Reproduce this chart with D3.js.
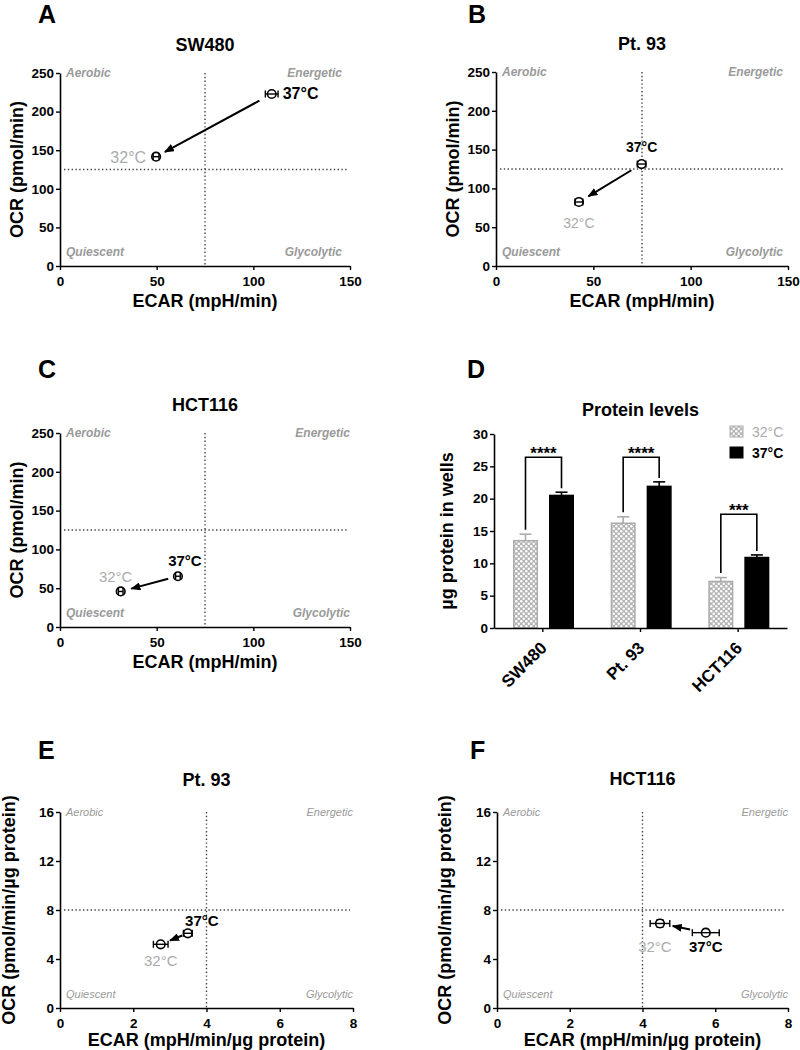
<!DOCTYPE html>
<html><head><meta charset="utf-8">
<script src="https://cdn.jsdelivr.net/npm/d3@7"></script>
<style>
body{margin:0;background:#fff;}
svg{font-family:"Liberation Sans",Arial,Helvetica,sans-serif;display:block;}
</style></head><body>
<svg id="c" width="800" height="1050"></svg>
<script>
// ---------------- data ----------------
const conditions = ["37°C", "32°C"];
const ocrTicks = [0, 50, 100, 150, 200, 250];
const ecarTicks = [0, 50, 100, 150];
const normOcrTicks = [0, 4, 8, 12, 16];
const normEcarTicks = [0, 2, 4, 6, 8];
const rawThreshold = [75, 125];
const normThreshold = [4, 8];
const quadrantNames = ["Aerobic", "Energetic", "Quiescent", "Glycolytic"];

// order: [37°C, 32°C]
const swEcar = [109.5, 49.7], swEcarErr = [3.3, 1.5], swOcr = [222.8, 141.6], swOcrErr = [3, 3];
const ptEcar = [74.8, 42.6], ptEcarErr = [2.2, 2.0], ptOcr = [131.4, 82.5], ptOcrErr = [3, 2.5];
const hctEcar = [61.0, 31.4], hctEcarErr = [1.2, 1.2], hctOcr = [65.4, 45.8], hctOcrErr = [2.5, 2.5];
const ptNormEcar = [3.49, 2.75], ptNormEcarErr = [0.12, 0.2], ptNormOcr = [6.1, 5.2], ptNormOcrErr = [0.2, 0.15];
const hctNormEcar = [5.74, 4.48], hctNormEcarErr = [0.37, 0.27], hctNormOcr = [6.15, 6.9], hctNormOcrErr = [0.2, 0.3];

const proteinCats = ["SW480", "Pt. 93", "HCT116"];
const protein32 = [13.5, 16.2, 7.2], protein32Err = [1.0, 1.0, 0.6];
const protein37 = [20.5, 21.9, 10.9], protein37Err = [0.5, 0.7, 0.4];
const proteinTicks = [0, 5, 10, 15, 20, 25, 30];
const sigLevel = [26.4, 26.4, 17.6];
const sigLabels = ["****", "****", "***"];

// ---------------- drawing ----------------
const svg = d3.select("#c");
const defs = svg.append("defs");
defs.append("marker").attr("id", "arr").attr("viewBox", "0 0 10 8")
  .attr("refX", 9).attr("refY", 4).attr("markerWidth", 5).attr("markerHeight", 4)
  .attr("orient", "auto").attr("markerUnits", "strokeWidth")
  .append("path").attr("d", "M0,0 L10,4 L0,8 Z").attr("fill", "#000");
const pat = defs.append("pattern").attr("id", "chk").attr("patternUnits", "userSpaceOnUse")
  .attr("width", 5).attr("height", 5);
pat.append("rect").attr("width", 5).attr("height", 5).attr("fill", "#b4b4b4");
pat.append("circle").attr("cx", 1.25).attr("cy", 1.25).attr("r", 1.25).attr("fill", "#fff");
pat.append("circle").attr("cx", 3.75).attr("cy", 3.75).attr("r", 1.25).attr("fill", "#fff");

const GRAY = "#ababab", QGRAY = "#9a9a9a";

function styleAxis(sel) {
  sel.select(".domain").attr("stroke", "#000").attr("stroke-width", 1.6);
  sel.selectAll(".tick line").attr("stroke", "#000").attr("stroke-width", 1.4);
  sel.selectAll(".tick text").attr("font-size", 13.5).attr("font-weight", "bold").attr("fill", "#000")
    .attr("font-family", "Liberation Sans, Arial, sans-serif");
}

function scatter(o) {
  const g = svg.append("g");
  const x = d3.scaleLinear().domain(o.xDom).range([o.x0, o.x1]);
  const y = d3.scaleLinear().domain(o.yDom).range([o.yB, o.yT]);
  g.append("text").attr("x", o.lx).attr("y", o.ly).attr("font-size", 25).attr("font-weight", "bold").text(o.letter);
  g.append("text").attr("x", (o.x0 + o.x1) / 2).attr("y", o.ty).attr("text-anchor", "middle")
    .attr("font-size", 18).attr("font-weight", "bold").text(o.title);
  // quadrant dividers
  const dot = { "stroke": "#444", "stroke-width": 1.4, "stroke-dasharray": "1.4,2.4" };
  const vl = g.append("line").attr("x1", x(o.thr[0])).attr("x2", x(o.thr[0])).attr("y1", o.yT).attr("y2", o.yB);
  const hl = g.append("line").attr("x1", o.x0 + 4).attr("x2", o.x1 - 3).attr("y1", y(o.thr[1])).attr("y2", y(o.thr[1]));
  for (const k in dot) { vl.attr(k, dot[k]); hl.attr(k, dot[k]); }
  // quadrant labels
  const qpos = [[o.x0 + 6, o.yT, "start"], [o.x1 - o.qRight, o.yT, "end"],
                [o.x0 + 6, o.yB - 14, "start"], [o.x1 - o.qRight, o.yB - 14, "end"]];
  quadrantNames.forEach((n, i) => {
    g.append("text").attr("x", qpos[i][0]).attr("y", qpos[i][1]).attr("dy", "0.35em")
      .attr("text-anchor", qpos[i][2]).attr("font-size", o.qSize).attr("font-style", "italic")
      .attr("font-weight", o.qBold ? "bold" : "normal").attr("fill", QGRAY).text(n);
  });
  // axes
  const xa = g.append("g").attr("transform", `translate(0,${o.yB})`)
    .call(d3.axisBottom(x).tickValues(o.xTicks).tickSize(4).tickPadding(6).tickSizeOuter(0));
  const ya = g.append("g").attr("transform", `translate(${o.x0},0)`)
    .call(d3.axisLeft(y).tickValues(o.yTicks).tickSize(4).tickPadding(2).tickSizeOuter(0));
  styleAxis(xa); styleAxis(ya);
  g.append("text").attr("x", (o.x0 + o.x1) / 2).attr("y", o.xtY).attr("text-anchor", "middle")
    .attr("font-size", 18).attr("font-weight", "bold").text(o.xTitle);
  g.append("text").attr("transform", `translate(${o.ytX},${(o.yT + o.yB) / 2}) rotate(-90)`)
    .attr("text-anchor", "middle").attr("font-size", 18).attr("font-weight", "bold").text(o.yTitle);
  // arrow 37 -> 32
  const p = conditions.map((c, i) => [x(o.ecar[i]), y(o.ocr[i])]);
  const dx = p[1][0] - p[0][0], dy = p[1][1] - p[0][1], L = Math.hypot(dx, dy);
  const ux = dx / L, uy = dy / L;
  g.append("line").attr("x1", p[0][0] + ux * o.arrow[0]).attr("y1", p[0][1] + uy * o.arrow[0])
    .attr("x2", p[1][0] - ux * o.arrow[1]).attr("y2", p[1][1] - uy * o.arrow[1])
    .attr("stroke", "#000").attr("stroke-width", 2).attr("marker-end", "url(#arr)");
  // points with error bars
  conditions.forEach((c, i) => {
    const cx = p[i][0], cy = p[i][1];
    const xl = x(o.ecar[i] - o.ecarErr[i]), xr = x(o.ecar[i] + o.ecarErr[i]);
    const yt = y(o.ocr[i] + o.ocrErr[i]), yb = y(o.ocr[i] - o.ocrErr[i]);
    const e = g.append("g").attr("stroke", "#000").attr("stroke-width", 1.4).attr("fill", "none");
    e.append("line").attr("x1", cx).attr("x2", cx).attr("y1", yt).attr("y2", yb);
    e.append("line").attr("x1", cx - 3.5).attr("x2", cx + 3.5).attr("y1", yt).attr("y2", yt);
    e.append("line").attr("x1", cx - 3.5).attr("x2", cx + 3.5).attr("y1", yb).attr("y2", yb);
    e.append("circle").attr("cx", cx).attr("cy", cy).attr("r", 4.3).attr("stroke-width", 1.6).attr("fill", "#fff");
    e.append("line").attr("x1", xl).attr("x2", xr).attr("y1", cy).attr("y2", cy);
    e.append("line").attr("x1", xl).attr("x2", xl).attr("y1", cy - 3.5).attr("y2", cy + 3.5);
    e.append("line").attr("x1", xr).attr("x2", xr).attr("y1", cy - 3.5).attr("y2", cy + 3.5);
    const lb = o.labels[i];
    g.append("text").attr("x", cx + lb.dx).attr("y", cy + lb.dy).attr("text-anchor", lb.anchor)
      .attr("font-size", lb.size).attr("font-weight", i === 0 ? "bold" : "normal")
      .attr("fill", i === 0 ? "#000" : GRAY).text(c);
  });
}

scatter({ letter: "A", lx: 38, ly: 23, title: "SW480", ty: 51, x0: 60, x1: 350, yT: 73, yB: 266,
  xDom: [0, 150], yDom: [0, 250], xTicks: ecarTicks, yTicks: ocrTicks, thr: rawThreshold,
  ecar: swEcar, ecarErr: swEcarErr, ocr: swOcr, ocrErr: swOcrErr,
  xTitle: "ECAR (mpH/min)", yTitle: "OCR (pmol/min)", xtY: 307, ytX: 23,
  qSize: 12, qBold: true, qRight: 8, arrow: [14, 10],
  labels: [{ dx: 11, dy: 5, anchor: "start", size: 16 }, { dx: -10, dy: 6, anchor: "end", size: 16 }] });

scatter({ letter: "B", lx: 468, ly: 23, title: "Pt. 93", ty: 50, x0: 496, x1: 788, yT: 72, yB: 266,
  xDom: [0, 150], yDom: [0, 250], xTicks: ecarTicks, yTicks: ocrTicks, thr: rawThreshold,
  ecar: ptEcar, ecarErr: ptEcarErr, ocr: ptOcr, ocrErr: ptOcrErr,
  xTitle: "ECAR (mpH/min)", yTitle: "OCR (pmol/min)", xtY: 307, ytX: 459,
  qSize: 12, qBold: true, qRight: 5, arrow: [12, 11],
  labels: [{ dx: 0, dy: -12, anchor: "middle", size: 14 }, { dx: 0, dy: 26, anchor: "middle", size: 14 }] });

scatter({ letter: "C", lx: 38, ly: 378, title: "HCT116", ty: 411, x0: 60, x1: 350, yT: 433, yB: 627,
  xDom: [0, 150], yDom: [0, 250], xTicks: ecarTicks, yTicks: ocrTicks, thr: rawThreshold,
  ecar: hctEcar, ecarErr: hctEcarErr, ocr: hctOcr, ocrErr: hctOcrErr,
  xTitle: "ECAR (mpH/min)", yTitle: "OCR (pmol/min)", xtY: 668, ytX: 23,
  qSize: 12, qBold: true, qRight: 0, arrow: [10, 11],
  labels: [{ dx: 7, dy: -10, anchor: "middle", size: 15 }, { dx: -5, dy: -9, anchor: "middle", size: 15 }] });

scatter({ letter: "E", lx: 38, ly: 759, title: "Pt. 93", ty: 786, x0: 60, x1: 353, yT: 812, yB: 1008,
  xDom: [0, 8], yDom: [0, 16], xTicks: normEcarTicks, yTicks: normOcrTicks, thr: normThreshold,
  ecar: ptNormEcar, ecarErr: ptNormEcarErr, ocr: ptNormOcr, ocrErr: ptNormOcrErr,
  xTitle: "ECAR (mpH/min/µg protein)", yTitle: "OCR (pmol/min/µg protein)", xtY: 1046, ytX: 15,
  qSize: 11, qBold: false, qRight: 0, arrow: [6, 10],
  labels: [{ dx: 14, dy: -7, anchor: "middle", size: 15 }, { dx: 0, dy: 22, anchor: "middle", size: 15 }] });

scatter({ letter: "F", lx: 470, ly: 759, title: "HCT116", ty: 785, x0: 497, x1: 788, yT: 812, yB: 1008,
  xDom: [0, 8], yDom: [0, 16], xTicks: normEcarTicks, yTicks: normOcrTicks, thr: normThreshold,
  ecar: hctNormEcar, ecarErr: hctNormEcarErr, ocr: hctNormOcr, ocrErr: hctNormOcrErr,
  xTitle: "ECAR (mpH/min/µg protein)", yTitle: "OCR (pmol/min/µg protein)", xtY: 1046, ytX: 451,
  qSize: 11, qBold: false, qRight: 0, arrow: [16, 13],
  labels: [{ dx: 0, dy: 19, anchor: "middle", size: 15 }, { dx: -5, dy: 29, anchor: "middle", size: 15 }] });

// ---------------- panel D: bars ----------------
(function () {
  const x0 = 494, x1 = 787, yT = 434, yB = 628;
  const g = svg.append("g");
  const x = d3.scaleBand().domain(proteinCats).range([x0, x1]).padding(0);
  const sub = d3.scaleBand().domain(["32", "37"]).range([19, 80]).paddingInner(0.3056);
  const y = d3.scaleLinear().domain([0, 30]).range([yB, yT]);
  g.append("text").attr("x", 467).attr("y", 378).attr("font-size", 25).attr("font-weight", "bold").text("D");
  g.append("text").attr("x", (x0 + x1) / 2).attr("y", 416).attr("text-anchor", "middle")
    .attr("font-size", 18).attr("font-weight", "bold").text("Protein levels");
  const series = [
    { key: "32", vals: protein32, err: protein32Err, fill: "url(#chk)", stroke: GRAY },
    { key: "37", vals: protein37, err: protein37Err, fill: "#000", stroke: "#000" }];
  series.forEach(s => {
    proteinCats.forEach((c, i) => {
      const bx = x(c) + sub(s.key), bw = sub.bandwidth();
      const top = y(s.vals[i] + s.err[i]);
      g.append("line").attr("x1", bx + bw / 2).attr("x2", bx + bw / 2).attr("y1", y(s.vals[i])).attr("y2", top)
        .attr("stroke", s.stroke).attr("stroke-width", 1.6);
      g.append("line").attr("x1", bx + bw / 2 - 6).attr("x2", bx + bw / 2 + 6).attr("y1", top).attr("y2", top)
        .attr("stroke", s.stroke).attr("stroke-width", 1.6);
      g.append("rect").attr("x", bx + 0.75).attr("y", y(s.vals[i])).attr("width", bw - 1.5)
        .attr("height", y(0) - y(s.vals[i])).attr("fill", s.fill).attr("stroke", s.stroke).attr("stroke-width", 1.5);
    });
  });
  // significance brackets
  proteinCats.forEach((c, i) => {
    const xa = x(c) + sub("32") + sub.bandwidth() / 2, xb = x(c) + sub("37") + sub.bandwidth() / 2;
    const ty = y(sigLevel[i]);
    g.append("path").attr("d", `M${xa},${y(protein32[i] + protein32Err[i] + 0.7)}V${ty}H${xb}V${y(protein37[i] + protein37Err[i] + 0.6)}`)
      .attr("fill", "none").attr("stroke", "#000").attr("stroke-width", 1.6);
    g.append("text").attr("x", (xa + xb) / 2).attr("y", ty + 2).attr("text-anchor", "middle")
      .attr("font-size", 17).attr("font-weight", "bold").text(sigLabels[i]);
  });
  const xa = g.append("g").attr("transform", `translate(0,${yB})`)
    .call(d3.axisBottom(x).tickSize(4).tickSizeOuter(0));
  styleAxis(xa);
  xa.selectAll(".tick text").attr("x", 0).attr("y", 0).attr("dy", 0).attr("font-size", 17)
    .attr("transform", "translate(5,21) rotate(-45)").style("text-anchor", "end");
  const ya = g.append("g").attr("transform", `translate(${x0},0)`)
    .call(d3.axisLeft(y).tickValues(proteinTicks).tickSize(4).tickPadding(2).tickSizeOuter(0));
  styleAxis(ya);
  g.append("text").attr("transform", `translate(453,${(yT + yB) / 2}) rotate(-90)`).attr("text-anchor", "middle")
    .attr("font-size", 18).attr("font-weight", "bold").text("µg protein in wells");
  // legend
  const leg = [{ t: "32°C", fill: "url(#chk)", stroke: GRAY, col: GRAY, w: "normal", y: 426 },
               { t: "37°C", fill: "#000", stroke: "#000", col: "#000", w: "bold", y: 447 }];
  leg.forEach(l => {
    g.append("rect").attr("x", 730).attr("y", l.y).attr("width", 13).attr("height", 11)
      .attr("fill", l.fill).attr("stroke", l.stroke).attr("stroke-width", 1);
    g.append("text").attr("x", 752).attr("y", l.y + 11).attr("font-size", 14).attr("font-weight", l.w)
      .attr("fill", l.col).text(l.t);
  });
})();
</script></body></html>
